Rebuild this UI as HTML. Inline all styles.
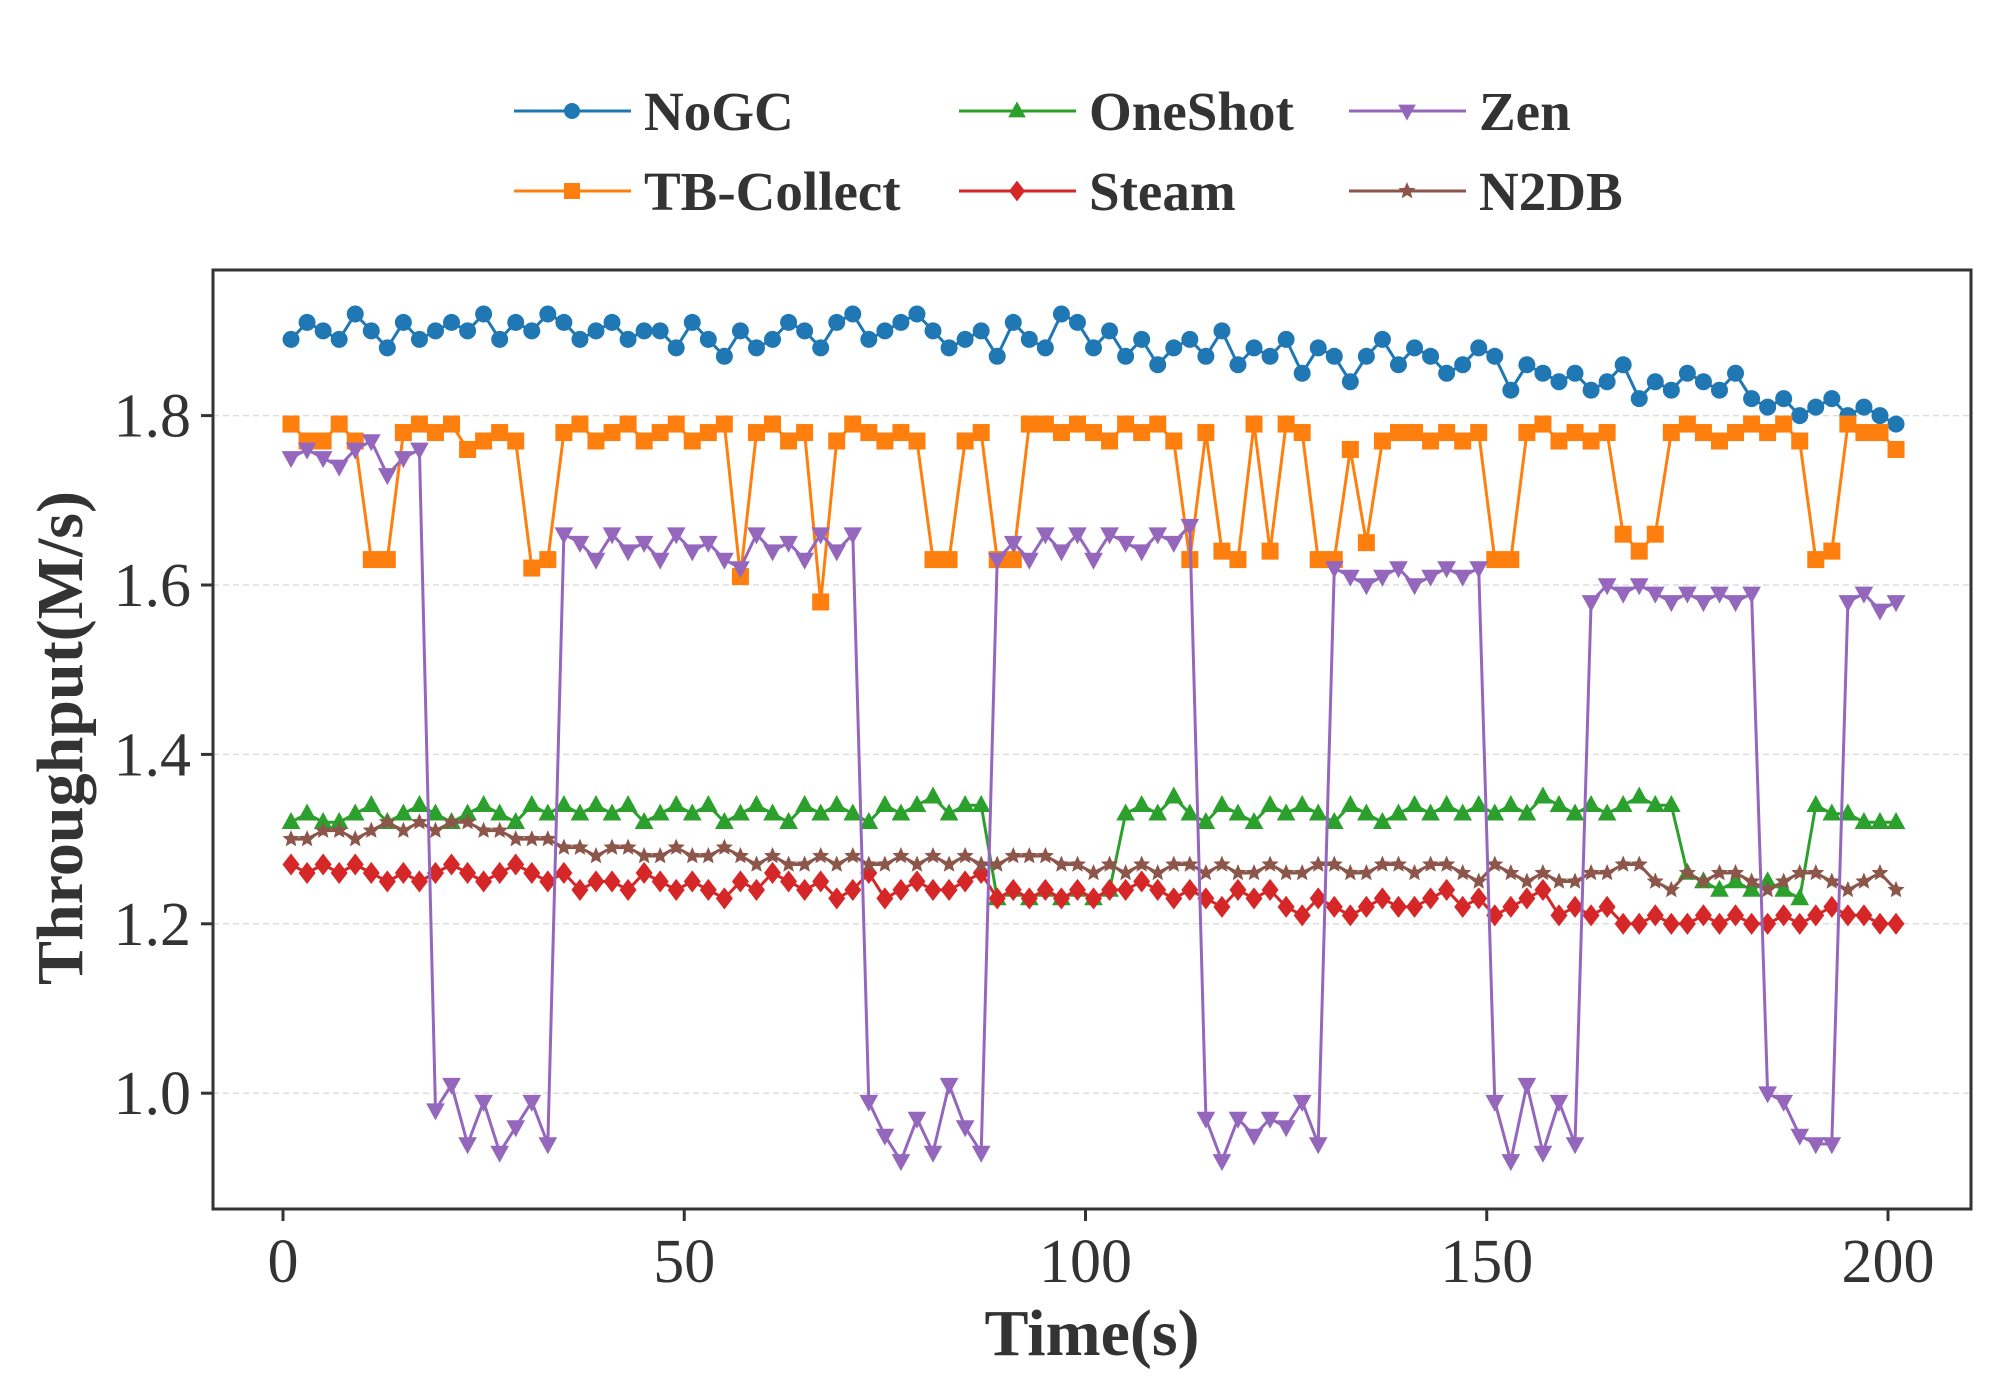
<!DOCTYPE html>
<html><head><meta charset="utf-8"><style>
html,body{margin:0;padding:0;background:#fff;}
svg{display:block;font-family:"Liberation Serif",serif;}
</style></head><body>
<svg id="chart" width="2000" height="1400" viewBox="0 0 2000 1400" xmlns="http://www.w3.org/2000/svg">
<g id="grid"></g>
<g id="series"></g>
<rect x="213" y="270" width="1758" height="939" fill="none" stroke="#333" stroke-width="3"/>
<g id="axes"></g>
<text x="1092" y="1355" font-size="66" font-weight="bold" text-anchor="middle" fill="#333">Time(s)</text>
<text transform="translate(82,738) rotate(-90)" font-size="66" font-weight="bold" text-anchor="middle" fill="#333">Throughput(M/s)</text>
<g id="legend"></g>
</svg>
<script>
const xTicks=[0,50,100,150,200];
const yTicks=[1.0,1.2,1.4,1.6,1.8];
const yTickLabels=["1.0","1.2","1.4","1.6","1.8"];
const seriesNames=["NoGC","TB-Collect","OneShot","Steam","Zen","N2DB"];
const nogc=[1.89,1.91,1.90,1.89,1.92,1.90,1.88,1.91,1.89,1.90,
1.91,1.90,1.92,1.89,1.91,1.90,1.92,1.91,1.89,1.90,
1.91,1.89,1.90,1.90,1.88,1.91,1.89,1.87,1.90,1.88,
1.89,1.91,1.90,1.88,1.91,1.92,1.89,1.90,1.91,1.92,
1.90,1.88,1.89,1.90,1.87,1.91,1.89,1.88,1.92,1.91,
1.88,1.90,1.87,1.89,1.86,1.88,1.89,1.87,1.90,1.86,
1.88,1.87,1.89,1.85,1.88,1.87,1.84,1.87,1.89,1.86,
1.88,1.87,1.85,1.86,1.88,1.87,1.83,1.86,1.85,1.84,
1.85,1.83,1.84,1.86,1.82,1.84,1.83,1.85,1.84,1.83,
1.85,1.82,1.81,1.82,1.80,1.81,1.82,1.80,1.81,1.80,1.79];
const tbcollect=[1.79,1.77,1.77,1.79,1.77,1.63,1.63,1.78,1.79,1.78,
1.79,1.76,1.77,1.78,1.77,1.62,1.63,1.78,1.79,1.77,
1.78,1.79,1.77,1.78,1.79,1.77,1.78,1.79,1.61,1.78,
1.79,1.77,1.78,1.58,1.77,1.79,1.78,1.77,1.78,1.77,
1.63,1.63,1.77,1.78,1.63,1.63,1.79,1.79,1.78,1.79,
1.78,1.77,1.79,1.78,1.79,1.77,1.63,1.78,1.64,1.63,
1.79,1.64,1.79,1.78,1.63,1.63,1.76,1.65,1.77,1.78,
1.78,1.77,1.78,1.77,1.78,1.63,1.63,1.78,1.79,1.77,
1.78,1.77,1.78,1.66,1.64,1.66,1.78,1.79,1.78,1.77,
1.78,1.79,1.78,1.79,1.77,1.63,1.64,1.79,1.78,1.78,1.76];
const oneshot=[1.32,1.33,1.32,1.32,1.33,1.34,1.32,1.33,1.34,1.33,
1.32,1.33,1.34,1.33,1.32,1.34,1.33,1.34,1.33,1.34,
1.33,1.34,1.32,1.33,1.34,1.33,1.34,1.32,1.33,1.34,
1.33,1.32,1.34,1.33,1.34,1.33,1.32,1.34,1.33,1.34,
1.35,1.33,1.34,1.34,1.23,1.24,1.23,1.24,1.23,1.24,
1.23,1.24,1.33,1.34,1.33,1.35,1.33,1.32,1.34,1.33,
1.32,1.34,1.33,1.34,1.33,1.32,1.34,1.33,1.32,1.33,
1.34,1.33,1.34,1.33,1.34,1.33,1.34,1.33,1.35,1.34,
1.33,1.34,1.33,1.34,1.35,1.34,1.34,1.26,1.25,1.24,
1.25,1.24,1.25,1.24,1.23,1.34,1.33,1.33,1.32,1.32,1.32];
const steam=[1.27,1.26,1.27,1.26,1.27,1.26,1.25,1.26,1.25,1.26,
1.27,1.26,1.25,1.26,1.27,1.26,1.25,1.26,1.24,1.25,
1.25,1.24,1.26,1.25,1.24,1.25,1.24,1.23,1.25,1.24,
1.26,1.25,1.24,1.25,1.23,1.24,1.26,1.23,1.24,1.25,
1.24,1.24,1.25,1.26,1.23,1.24,1.23,1.24,1.23,1.24,
1.23,1.24,1.24,1.25,1.24,1.23,1.24,1.23,1.22,1.24,
1.23,1.24,1.22,1.21,1.23,1.22,1.21,1.22,1.23,1.22,
1.22,1.23,1.24,1.22,1.23,1.21,1.22,1.23,1.24,1.21,
1.22,1.21,1.22,1.20,1.20,1.21,1.20,1.20,1.21,1.20,
1.21,1.20,1.20,1.21,1.20,1.21,1.22,1.21,1.21,1.20,1.20];
const zen=[1.75,1.76,1.75,1.74,1.76,1.77,1.73,1.75,1.76,0.98,
1.01,0.94,0.99,0.93,0.96,0.99,0.94,1.66,1.65,1.63,
1.66,1.64,1.65,1.63,1.66,1.64,1.65,1.63,1.62,1.66,
1.64,1.65,1.63,1.66,1.64,1.66,0.99,0.95,0.92,0.97,
0.93,1.01,0.96,0.93,1.63,1.65,1.63,1.66,1.64,1.66,
1.63,1.66,1.65,1.64,1.66,1.65,1.67,0.97,0.92,0.97,
0.95,0.97,0.96,0.99,0.94,1.62,1.61,1.60,1.61,1.62,
1.60,1.61,1.62,1.61,1.62,0.99,0.92,1.01,0.93,0.99,
0.94,1.58,1.60,1.59,1.60,1.59,1.58,1.59,1.58,1.59,
1.58,1.59,1.00,0.99,0.95,0.94,0.94,1.58,1.59,1.57,1.58];
const n2db=[1.30,1.30,1.31,1.31,1.30,1.31,1.32,1.31,1.32,1.31,
1.32,1.32,1.31,1.31,1.30,1.30,1.30,1.29,1.29,1.28,
1.29,1.29,1.28,1.28,1.29,1.28,1.28,1.29,1.28,1.27,
1.28,1.27,1.27,1.28,1.27,1.28,1.27,1.27,1.28,1.27,
1.28,1.27,1.28,1.27,1.27,1.28,1.28,1.28,1.27,1.27,
1.26,1.27,1.26,1.27,1.26,1.27,1.27,1.26,1.27,1.26,
1.26,1.27,1.26,1.26,1.27,1.27,1.26,1.26,1.27,1.27,
1.26,1.27,1.27,1.26,1.25,1.27,1.26,1.25,1.26,1.25,
1.25,1.26,1.26,1.27,1.27,1.25,1.24,1.26,1.25,1.26,
1.26,1.25,1.24,1.25,1.26,1.26,1.25,1.24,1.25,1.26,1.24];
const times=nogc.map((_,i)=>1+2*i);

const NS="http://www.w3.org/2000/svg";
function X(t){return 283+(t)*(1888-283)/200;}
function Y(v){return 415.6+(1.8-v)*847;}
function mk(tag,attrs,parent){const e=document.createElementNS(NS,tag);for(const k in attrs)e.setAttribute(k,attrs[k]);parent.appendChild(e);return e;}

const grid=document.getElementById('grid'),axes=document.getElementById('axes');
yTicks.forEach((v,i)=>{
  const g=mk('line',{x1:213,x2:1971,y1:Y(v),y2:Y(v),stroke:'#ddd','stroke-width':1.5,'stroke-dasharray':'6,4'},grid);
  
  
  const t=mk('line',{x1:201,x2:213,y1:Y(v),y2:Y(v),stroke:'#333','stroke-width':3},axes);
  
  
  const l=mk('text',{x:191,y:Y(v)+21,'font-size':62,'text-anchor':'end',fill:'#333'},axes);
  l.textContent=yTickLabels[i];
  
  
});
xTicks.forEach(v=>{
  const t=mk('line',{x1:X(v),x2:X(v),y1:1209,y2:1221,stroke:'#333','stroke-width':3},axes);
  
  
  const l=mk('text',{x:X(v),y:1282,'font-size':62,'text-anchor':'middle',fill:'#333'},axes);
  l.textContent=String(v);
  
  
});

const colors=['#1f77b4','#ff7f0e','#2ca02c','#d62728','#9467bd','#8c564b'];
const markers=['circle','square','triangle-up','diamond','triangle-down','star'];
const datas=[nogc,tbcollect,oneshot,steam,zen,n2db];
function marker(type,x,y,c,parent,s){
  let e;
  if(type==='circle')e=mk('circle',{cx:x,cy:y,r:s,fill:c},parent);
  else if(type==='square')e=mk('rect',{x:x-s,y:y-s,width:2*s,height:2*s,fill:c},parent);
  else if(type==='triangle-up')e=mk('polygon',{points:`${x},${y-s*1.2} ${x-s*1.1},${y+s*0.8} ${x+s*1.1},${y+s*0.8}`,fill:c},parent);
  else if(type==='triangle-down')e=mk('polygon',{points:`${x},${y+s*1.2} ${x-s*1.1},${y-s*0.8} ${x+s*1.1},${y-s*0.8}`,fill:c},parent);
  else if(type==='diamond')e=mk('polygon',{points:`${x},${y-s*1.3} ${x+s},${y} ${x},${y+s*1.3} ${x-s},${y}`,fill:c},parent);
  else {let p=[];for(let k=0;k<10;k++){const r=k%2?s*0.45:s;const a=-Math.PI/2+k*Math.PI/5;p.push((x+r*Math.cos(a)).toFixed(1)+','+(y+r*Math.sin(a)).toFixed(1));}e=mk('polygon',{points:p.join(' '),fill:c},parent);}
  return e;
}
const sg=document.getElementById('series');
const order=[0,1,2,3,5,4];
order.forEach(si=>{
  const d=datas[si];
  const g=mk('g',{},sg);
  
  
  const pts=d.map((v,i)=>X(times[i]).toFixed(1)+','+Y(v).toFixed(1)).join(' ');
  const pl=mk('polyline',{points:pts,fill:'none',stroke:colors[si],'stroke-width':3},g);
  
  
  d.forEach((v,i)=>{
    const m=marker(markers[si],X(times[i]),Y(v),colors[si],g,si===5?9:8.5);
    
    
  });
});

const lg=document.getElementById('legend');
const legPos=[[514,111],[514,191],[959,111],[959,191],[1349,111],[1349,191]];
seriesNames.forEach((n,si)=>{
  const [lx,ly]=legPos[si];
  const g=mk('g',{},lg);
  
  
  mk('line',{x1:lx,x2:lx+117,y1:ly,y2:ly,stroke:colors[si],'stroke-width':3},g);
  marker(markers[si],lx+58,ly,colors[si],g,si===5?9:8);
  const t=mk('text',{x:lx+130,y:ly+19,'font-size':55,'font-weight':'bold',fill:'#333'},g);
  t.textContent=n;
});
</script>
</body></html>
